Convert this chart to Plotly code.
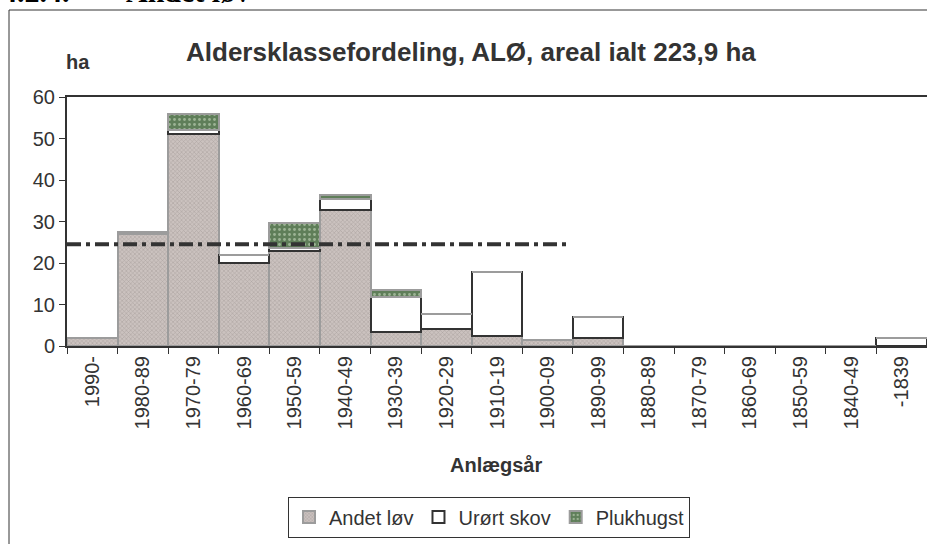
import plotly.graph_objects as go

# age classes (planting period)
periods = ['1990-', '1980-89', '1970-79', '1960-69', '1950-59', '1940-49',
           '1930-39', '1920-29', '1910-19', '1900-09', '1890-99', '1880-89',
           '1870-79', '1860-69', '1850-59', '1840-49', '-1839']

# area in ha per series
andet_lov = [2.0, 27.0, 51.0, 20.0, 22.8, 32.8, 3.4, 4.0, 2.3, 1.5, 2.0, 0, 0, 0, 0, 0, 0]
urort_skov = [0, 0, 1.0, 2.0, 0.7, 2.6, 8.5, 3.8, 15.6, 0, 4.9, 0, 0, 0, 0, 0, 2.0]
plukhugst = [0, 0.5, 4.0, 0, 6.2, 1.1, 1.6, 0, 0, 0, 0, 0, 0, 0, 0, 0, 0]

# normal-period reference line
avg_x = [-0.5, 9.4]
avg_y = [24.5, 24.5]

yticks = [0, 10, 20, 30, 40, 50, 60]

FONT = 'Liberation Sans, Arial, sans-serif'
SERIF = 'Liberation Serif, Times New Roman, serif'
TXT = '#333333'

# plot area in pixels: left 67, right 927, top 97, bottom 346
L, R, T, B = 67, 927, 97, 346


def px(x):
    return (x - L) / (R - L)


def py(y):
    return (B - y) / (B - T)


fig = go.Figure()
fig.add_trace(go.Bar(
    x=periods, y=andet_lov, name='Andet løv',
    marker=dict(color='#cbc2bf',
                pattern=dict(shape='x', size=3, solidity=0.35, fgcolor='#8e8583', bgcolor='#cbc2bf'),
                line=dict(color='#9c9c9c', width=2)),
))
fig.add_trace(go.Bar(
    x=periods, y=urort_skov, name='Urørt skov',
    marker=dict(color='white', line=dict(color='#333333', width=2)),
))
fig.add_trace(go.Bar(
    x=periods, y=plukhugst, name='Plukhugst',
    marker=dict(color='#5f7e59',
                pattern=dict(shape='.', size=5, solidity=0.25, fgcolor='#d9e8cf', bgcolor='#5f7e59'),
                line=dict(color='#9c9c9c', width=2)),
))
fig.add_trace(go.Scatter(
    x=avg_x, y=avg_y, mode='lines', xaxis='x2', showlegend=False,
    line=dict(color='#333333', width=4, dash='14px,5px,4px,5px'),
))

fig.update_layout(
    width=927, height=544,
    margin=dict(l=L, r=927 - R, t=T, b=544 - B),
    paper_bgcolor='white', plot_bgcolor='white',
    barmode='stack', bargap=0,
    font=dict(family=FONT, color=TXT, size=20),
    xaxis=dict(type='category', range=[-0.5, 16.5], tickangle=-90,
               tickson='boundaries', ticks='outside', ticklen=6, tickcolor=TXT,
               showline=True, linecolor=TXT, linewidth=2, mirror=True,
               showgrid=False, tickfont=dict(size=20)),
    xaxis2=dict(overlaying='x', range=[-0.5, 16.5], visible=False),
    yaxis=dict(range=[0, 60], tickvals=yticks, ticks='outside', ticklen=6,
               tickcolor=TXT, showline=True, linecolor=TXT, linewidth=2,
               showgrid=False, zeroline=False, tickfont=dict(size=20)),
    legend=dict(orientation='h', x=px(489), xanchor='center', y=py(517), yanchor='middle',
                bordercolor=TXT, borderwidth=1, font=dict(size=20),
                itemwidth=30, traceorder='normal'),
    showlegend=True,
)

ann = [
    dict(text='<b>Aldersklassefordeling, ALØ, areal ialt 223,9 ha</b>',
         x=px(471), y=py(52), font=dict(size=26)),
    dict(text='<b>ha</b>', x=px(78), y=py(62), font=dict(size=20)),
    dict(text='<b>Anlægsår</b>', x=px(496), y=py(465), font=dict(size=20)),
    dict(text='<b>4.2.4.</b>', x=px(0), xanchor='left', y=py(10), yanchor='bottom',
         font=dict(size=30, family=SERIF, color='black')),
    dict(text='<b>Andet løv</b>', x=px(124), xanchor='left', y=py(10), yanchor='bottom',
         font=dict(size=30, family=SERIF, color='black')),
]
for a in ann:
    a.setdefault('xanchor', 'center')
    a.setdefault('yanchor', 'middle')
    fig.add_annotation(xref='paper', yref='paper', showarrow=False, **a)

# outer chart frame
fig.add_shape(type='rect', xref='paper', yref='paper',
              x0=px(9), x1=1.05, y0=-1.2, y1=py(10),
              line=dict(color='#333333', width=1), layer='below')

fig.write_html('out.html', config={'displayModeBar': False},
               post_script="document.body.style.margin='0px';")
